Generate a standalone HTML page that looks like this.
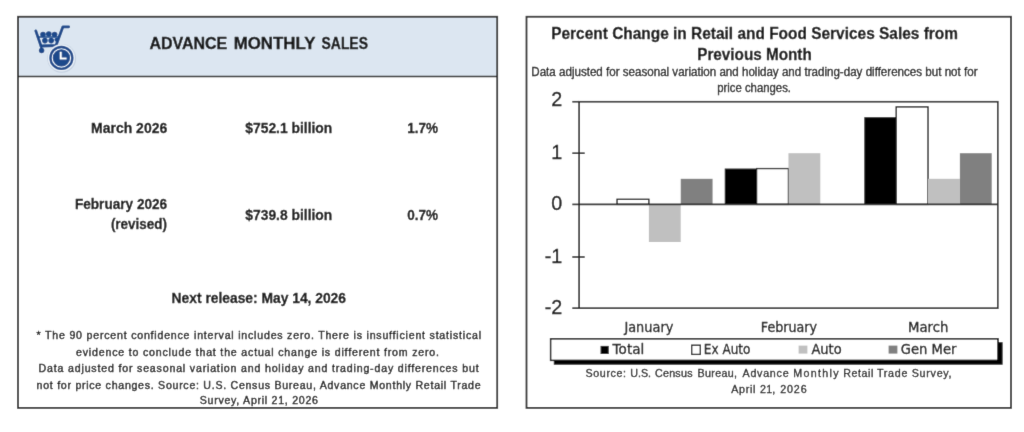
<!DOCTYPE html>
<html lang="en">
<head>
<meta charset="utf-8">
<title>Advance Monthly Sales for Retail and Food Services</title>
<style>
html,body{margin:0;padding:0;background:#fff;}
body{width:1024px;height:432px;overflow:hidden;position:relative;font-family:'Liberation Sans', Arial, sans-serif;color:#1c1c1c;}
main{position:absolute;left:0;top:0;width:1024px;height:432px;}
section{position:absolute;top:0;width:512px;height:432px;margin:0;padding:0;overflow:hidden;}
#sales-summary{left:0;}
#sales-chart{left:512px;}
svg{display:block;position:absolute;left:0;top:0;}
text{white-space:pre;}
</style>
</head>
<body>
<main>
<section id="sales-summary">
<svg width="512" height="432" viewBox="0 0 512 432" role="img" aria-label="Advance Monthly Sales summary table">
<defs><filter id="softL" x="0" y="0" width="512" height="432" filterUnits="userSpaceOnUse"><feConvolveMatrix order="3" kernelMatrix="0.0081 0.0738 0.0081 0.0738 0.6724 0.0738 0.0081 0.0738 0.0081" divisor="1" bias="0" edgeMode="duplicate" preserveAlpha="true"/></filter></defs>
<g filter="url(#softL)">
<rect x="0" y="0" width="512" height="432" fill="#fff"/>
<rect x="18.0" y="16.75" width="479.2" height="391.15" fill="#fff"/>
<rect x="18.0" y="16.75" width="479.2" height="59.75" fill="#dce6f1"/>
<line x1="18.0" y1="76.5" x2="497.2" y2="76.5" stroke="#2b2b2b" stroke-width="1.3"/>
<rect x="18.0" y="16.75" width="479.2" height="391.15" fill="none" stroke="#2b2b2b" stroke-width="1.8"/>

<g id="icon" fill="none" stroke="#1b4a8b" stroke-linecap="round" stroke-linejoin="round">
  <path d="M35.8 30.9 L41.0 46.0 L56.0 45.5 L62.9 26.8 L68.7 26.8" stroke-width="2.8"/>
  <path d="M41.0 46.0 L41.6 50.4" stroke-width="2.4"/>
  <path d="M37.6 37.1 L58.8 37.1" stroke-width="1.5"/>
  <g fill="#1b4a8b" stroke="none">
    <circle cx="43.0" cy="34.5" r="2.8"/><circle cx="48.8" cy="34.0" r="2.8"/><circle cx="54.6" cy="34.5" r="2.8"/>
    <circle cx="44.9" cy="40.6" r="2.8"/><circle cx="51.2" cy="40.6" r="2.8"/><circle cx="56.4" cy="39.8" r="2.0"/>
    <circle cx="41.6" cy="50.5" r="2.7"/>
  </g>
  <circle cx="61.7" cy="58.4" r="14.4" fill="#aebdd2" stroke="none" opacity="0.5"/>
  <circle cx="61.4" cy="57.9" r="13.6" fill="#e9eff7" stroke="none"/>
  <circle cx="61.4" cy="57.9" r="12.1" fill="#1b4a8b" stroke="none"/>
  <circle cx="61.4" cy="57.9" r="9.2" fill="none" stroke="#eef3fa" stroke-width="1.15"/>
  <path d="M60.7 51.8 L60.7 58.6 L66.6 58.6" stroke="#fff" stroke-width="2.0" stroke-linecap="butt" stroke-linejoin="miter"/>
</g>

<text x="149.40" y="48.60" font-family="'Liberation Sans', Arial, sans-serif" font-size="16" font-weight="bold" fill="#151515" textLength="77.90" lengthAdjust="spacingAndGlyphs"  stroke="#151515" stroke-width="0.35" stroke-linejoin="round">ADVANCE</text>
<text x="233.70" y="48.60" font-family="'Liberation Sans', Arial, sans-serif" font-size="16" font-weight="bold" fill="#151515" textLength="81.70" lengthAdjust="spacingAndGlyphs"  stroke="#151515" stroke-width="0.35" stroke-linejoin="round">MONTHLY</text>
<text x="321.60" y="48.60" font-family="'Liberation Sans', Arial, sans-serif" font-size="16" font-weight="bold" fill="#151515" textLength="46.30" lengthAdjust="spacingAndGlyphs"  stroke="#151515" stroke-width="0.35" stroke-linejoin="round">SALES</text>
<text x="91.10" y="132.70" font-family="'Liberation Sans', Arial, sans-serif" font-size="14.6" font-weight="bold" fill="#151515" textLength="76.10" lengthAdjust="spacingAndGlyphs"  stroke="#151515" stroke-width="0.3" stroke-linejoin="round">March 2026</text>
<text x="245.30" y="132.70" font-family="'Liberation Sans', Arial, sans-serif" font-size="14.6" font-weight="bold" fill="#151515" textLength="87.00" lengthAdjust="spacingAndGlyphs"  stroke="#151515" stroke-width="0.3" stroke-linejoin="round">$752.1 billion</text>
<text x="407.20" y="132.70" font-family="'Liberation Sans', Arial, sans-serif" font-size="14.6" font-weight="bold" fill="#151515" textLength="30.80" lengthAdjust="spacingAndGlyphs"  stroke="#151515" stroke-width="0.3" stroke-linejoin="round">1.7%</text>
<text x="74.90" y="209.30" font-family="'Liberation Sans', Arial, sans-serif" font-size="14.6" font-weight="bold" fill="#151515" textLength="92.30" lengthAdjust="spacingAndGlyphs"  stroke="#151515" stroke-width="0.3" stroke-linejoin="round">February 2026</text>
<text x="110.90" y="229.10" font-family="'Liberation Sans', Arial, sans-serif" font-size="14.6" font-weight="bold" fill="#151515" textLength="56.10" lengthAdjust="spacingAndGlyphs"  stroke="#151515" stroke-width="0.3" stroke-linejoin="round">(revised)</text>
<text x="245.30" y="219.90" font-family="'Liberation Sans', Arial, sans-serif" font-size="14.6" font-weight="bold" fill="#151515" textLength="87.00" lengthAdjust="spacingAndGlyphs"  stroke="#151515" stroke-width="0.3" stroke-linejoin="round">$739.8 billion</text>
<text x="407.20" y="219.90" font-family="'Liberation Sans', Arial, sans-serif" font-size="14.6" font-weight="bold" fill="#151515" textLength="30.80" lengthAdjust="spacingAndGlyphs"  stroke="#151515" stroke-width="0.3" stroke-linejoin="round">0.7%</text>
<text x="171.60" y="302.90" font-family="'Liberation Sans', Arial, sans-serif" font-size="14.6" font-weight="bold" fill="#151515" textLength="174.40" lengthAdjust="spacingAndGlyphs"  stroke="#151515" stroke-width="0.3" stroke-linejoin="round">Next release: May 14, 2026</text>
<text x="36.60" y="339.40" font-family="'Liberation Sans', Arial, sans-serif" font-size="10.6" font-weight="normal" fill="#151515" textLength="444.40" lengthAdjust="spacing"  stroke="#151515" stroke-width="0.4" stroke-linejoin="round">* The 90 percent confidence interval includes zero. There is insufficient statistical</text>
<text x="76.00" y="356.30" font-family="'Liberation Sans', Arial, sans-serif" font-size="10.6" font-weight="normal" fill="#151515" textLength="363.00" lengthAdjust="spacing"  stroke="#151515" stroke-width="0.4" stroke-linejoin="round">evidence to conclude that the actual change is different from zero.</text>
<text x="38.60" y="372.00" font-family="'Liberation Sans', Arial, sans-serif" font-size="10.6" font-weight="normal" fill="#151515" textLength="440.00" lengthAdjust="spacing"  stroke="#151515" stroke-width="0.4" stroke-linejoin="round">Data adjusted for seasonal variation and holiday and trading-day differences but</text>
<text x="36.60" y="388.80" font-family="'Liberation Sans', Arial, sans-serif" font-size="10.6" font-weight="normal" fill="#151515" textLength="444.00" lengthAdjust="spacing"  stroke="#151515" stroke-width="0.4" stroke-linejoin="round">not for price changes. Source: U.S. Census Bureau, Advance Monthly Retail Trade</text>
<text x="199.80" y="404.40" font-family="'Liberation Sans', Arial, sans-serif" font-size="10.6" font-weight="normal" fill="#151515" textLength="118.20" lengthAdjust="spacing"  stroke="#151515" stroke-width="0.4" stroke-linejoin="round">Survey, April 21, 2026</text>
</g>
</svg>
</section>
<section id="sales-chart">
<svg width="512" height="432" viewBox="512 0 512 432" role="img" aria-label="Bar chart: Percent Change in Retail and Food Services Sales from Previous Month">
<defs><filter id="softR" x="512" y="0" width="512" height="432" filterUnits="userSpaceOnUse"><feConvolveMatrix order="3" kernelMatrix="0.0081 0.0738 0.0081 0.0738 0.6724 0.0738 0.0081 0.0738 0.0081" divisor="1" bias="0" edgeMode="duplicate" preserveAlpha="true"/></filter></defs>
<g filter="url(#softR)">
<rect x="512" y="0" width="512" height="432" fill="#fff"/>
<rect x="526.5" y="16.75" width="484.5" height="391.15" fill="#fff" stroke="#2b2b2b" stroke-width="1.8"/>
<text x="551.20" y="39.30" font-family="'Liberation Sans', Arial, sans-serif" font-size="16.6" font-weight="bold" fill="#151515" textLength="406.80" lengthAdjust="spacingAndGlyphs"  stroke="#151515" stroke-width="0.3" stroke-linejoin="round">Percent Change in Retail and Food Services Sales from</text>
<text x="697.20" y="60.30" font-family="'Liberation Sans', Arial, sans-serif" font-size="16.6" font-weight="bold" fill="#151515" textLength="114.60" lengthAdjust="spacingAndGlyphs"  stroke="#151515" stroke-width="0.3" stroke-linejoin="round">Previous Month</text>
<text x="531.30" y="76.20" font-family="'Liberation Sans', Arial, sans-serif" font-size="13.4" font-weight="normal" fill="#151515" textLength="446.20" lengthAdjust="spacingAndGlyphs"  stroke="#151515" stroke-width="0.35" stroke-linejoin="round">Data adjusted for seasonal variation and holiday and trading-day differences but not for</text>
<text x="717.20" y="92.30" font-family="'Liberation Sans', Arial, sans-serif" font-size="13.4" font-weight="normal" fill="#151515" textLength="73.80" lengthAdjust="spacingAndGlyphs"  stroke="#151515" stroke-width="0.35" stroke-linejoin="round">price changes.</text>
<rect x="617.03" y="199.28" width="31.85" height="5.12" fill="#fff" stroke="#111" stroke-width="1.3"/>
<rect x="648.88" y="204.40" width="31.85" height="37.61" fill="#c0c0c0"/>
<rect x="680.73" y="178.80" width="31.85" height="25.60" fill="#808080"/>
<rect x="724.75" y="168.56" width="31.85" height="35.84" fill="#000"/>
<rect x="756.60" y="168.56" width="31.85" height="35.84" fill="#fff" stroke="#111" stroke-width="1.3"/>
<rect x="788.45" y="153.20" width="31.85" height="51.20" fill="#c0c0c0"/>
<rect x="864.32" y="117.19" width="31.85" height="87.22" fill="#000"/>
<rect x="896.17" y="106.90" width="31.85" height="97.50" fill="#fff" stroke="#111" stroke-width="1.3"/>
<rect x="928.02" y="178.80" width="31.85" height="25.60" fill="#c0c0c0"/>
<rect x="959.87" y="153.20" width="31.85" height="51.20" fill="#808080"/>
<rect x="579.1" y="101.75" width="418.69999999999993" height="206.39999999999998" fill="none" stroke="#2a2a2a" stroke-width="1.65"/>
<line x1="579.1" y1="204.40" x2="997.8" y2="204.40" stroke="#2a2a2a" stroke-width="1.65"/>
<line x1="572.3000000000001" y1="101.75" x2="579.1" y2="101.75" stroke="#2a2a2a" stroke-width="1.65"/>
<line x1="572.3000000000001" y1="153.20" x2="584.7" y2="153.20" stroke="#2a2a2a" stroke-width="1.65"/>
<line x1="572.3000000000001" y1="204.40" x2="579.1" y2="204.40" stroke="#2a2a2a" stroke-width="1.65"/>
<line x1="572.3000000000001" y1="257.00" x2="584.7" y2="257.00" stroke="#2a2a2a" stroke-width="1.65"/>
<line x1="572.3000000000001" y1="308.15" x2="579.1" y2="308.15" stroke="#2a2a2a" stroke-width="1.65"/>
<text transform="translate(562.2,106.20) scale(1.0,1)" x="0" y="0" text-anchor="end" font-family="'Liberation Sans', Arial, sans-serif" font-size="19.7" fill="#151515" stroke="#151515" stroke-width="0.35">2</text>
<text transform="translate(562.2,158.60) scale(1.0,1)" x="0" y="0" text-anchor="end" font-family="'Liberation Sans', Arial, sans-serif" font-size="19.7" fill="#151515" stroke="#151515" stroke-width="0.35">1</text>
<text transform="translate(562.2,210.00) scale(1.0,1)" x="0" y="0" text-anchor="end" font-family="'Liberation Sans', Arial, sans-serif" font-size="19.7" fill="#151515" stroke="#151515" stroke-width="0.35">0</text>
<text transform="translate(562.2,262.60) scale(1.0,1)" x="0" y="0" text-anchor="end" font-family="'Liberation Sans', Arial, sans-serif" font-size="19.7" fill="#151515" stroke="#151515" stroke-width="0.35">-1</text>
<text transform="translate(562.2,313.90) scale(1.0,1)" x="0" y="0" text-anchor="end" font-family="'Liberation Sans', Arial, sans-serif" font-size="19.7" fill="#151515" stroke="#151515" stroke-width="0.35">-2</text>
<text x="624.40" y="332.30" font-family="'DejaVu Sans', 'Liberation Sans', sans-serif" font-size="13.4" font-weight="normal" fill="#151515" textLength="49.00" lengthAdjust="spacingAndGlyphs"  stroke="#151515" stroke-width="0.32" stroke-linejoin="round">January</text>
<text x="760.80" y="332.30" font-family="'DejaVu Sans', 'Liberation Sans', sans-serif" font-size="13.4" font-weight="normal" fill="#151515" textLength="56.20" lengthAdjust="spacingAndGlyphs"  stroke="#151515" stroke-width="0.32" stroke-linejoin="round">February</text>
<text x="908.00" y="332.30" font-family="'DejaVu Sans', 'Liberation Sans', sans-serif" font-size="13.4" font-weight="normal" fill="#151515" textLength="40.40" lengthAdjust="spacingAndGlyphs"  stroke="#151515" stroke-width="0.32" stroke-linejoin="round">March</text>
<rect x="553.8000000000001" y="342.2" width="448.79999999999995" height="22.499999999999964" fill="#000"/>
<rect x="550.6" y="338.8" width="447.4" height="21.599999999999966" fill="#fff" stroke="#000" stroke-width="1.45"/>
<rect x="600.6" y="345.9" width="8.1" height="8.1" fill="#000"/>
<text x="612.60" y="353.90" font-family="'DejaVu Sans', 'Liberation Sans', sans-serif" font-size="13.4" font-weight="normal" fill="#151515" textLength="31.70" lengthAdjust="spacingAndGlyphs"  stroke="#151515" stroke-width="0.32" stroke-linejoin="round">Total</text>
<rect x="691.7" y="345.2" width="8.6" height="9.2" fill="#fff" stroke="#111" stroke-width="1.3"/>
<text x="703.80" y="353.90" font-family="'DejaVu Sans', 'Liberation Sans', sans-serif" font-size="13.4" font-weight="normal" fill="#151515" textLength="46.60" lengthAdjust="spacingAndGlyphs"  stroke="#151515" stroke-width="0.32" stroke-linejoin="round">Ex Auto</text>
<rect x="798.6" y="345.6" width="8.8" height="8.0" fill="#c0c0c0"/>
<text x="811.40" y="353.90" font-family="'DejaVu Sans', 'Liberation Sans', sans-serif" font-size="13.4" font-weight="normal" fill="#151515" textLength="30.30" lengthAdjust="spacingAndGlyphs"  stroke="#151515" stroke-width="0.32" stroke-linejoin="round">Auto</text>
<rect x="888.6" y="345.6" width="8.8" height="8.0" fill="#808080"/>
<text x="900.80" y="353.90" font-family="'DejaVu Sans', 'Liberation Sans', sans-serif" font-size="13.4" font-weight="normal" fill="#151515" textLength="55.60" lengthAdjust="spacingAndGlyphs"  stroke="#151515" stroke-width="0.32" stroke-linejoin="round">Gen Mer</text>
<g>
<text x="585.50" y="377.40" font-family="'Liberation Sans', Arial, sans-serif" font-size="10.7" font-weight="normal" fill="#151515" textLength="40.60" lengthAdjust="spacing"  stroke="#151515" stroke-width="0.3" stroke-linejoin="round">Source:</text>
<text x="630.30" y="377.40" font-family="'Liberation Sans', Arial, sans-serif" font-size="10.7" font-weight="normal" fill="#151515" textLength="20.80" lengthAdjust="spacingAndGlyphs"  stroke="#151515" stroke-width="0.3" stroke-linejoin="round">U.S.</text>
<text x="655.00" y="377.40" font-family="'Liberation Sans', Arial, sans-serif" font-size="10.7" font-weight="normal" fill="#151515" textLength="37.50" lengthAdjust="spacing"  stroke="#151515" stroke-width="0.3" stroke-linejoin="round">Census</text>
<text x="697.50" y="377.40" font-family="'Liberation Sans', Arial, sans-serif" font-size="10.7" font-weight="normal" fill="#151515" textLength="39.50" lengthAdjust="spacing"  stroke="#151515" stroke-width="0.3" stroke-linejoin="round">Bureau,</text>
<text x="742.50" y="377.40" font-family="'Liberation Sans', Arial, sans-serif" font-size="10.7" font-weight="normal" fill="#151515" textLength="46.10" lengthAdjust="spacing"  stroke="#151515" stroke-width="0.3" stroke-linejoin="round">Advance</text>
<text x="793.30" y="377.40" font-family="'Liberation Sans', Arial, sans-serif" font-size="10.7" font-weight="normal" fill="#151515" textLength="45.30" lengthAdjust="spacing"  stroke="#151515" stroke-width="0.3" stroke-linejoin="round">Monthly</text>
<text x="843.30" y="377.40" font-family="'Liberation Sans', Arial, sans-serif" font-size="10.7" font-weight="normal" fill="#151515" textLength="30.10" lengthAdjust="spacing"  stroke="#151515" stroke-width="0.3" stroke-linejoin="round">Retail</text>
<text x="876.90" y="377.40" font-family="'Liberation Sans', Arial, sans-serif" font-size="10.7" font-weight="normal" fill="#151515" textLength="30.60" lengthAdjust="spacing"  stroke="#151515" stroke-width="0.3" stroke-linejoin="round">Trade</text>
<text x="911.70" y="377.40" font-family="'Liberation Sans', Arial, sans-serif" font-size="10.7" font-weight="normal" fill="#151515" textLength="39.90" lengthAdjust="spacing"  stroke="#151515" stroke-width="0.3" stroke-linejoin="round">Survey,</text>
</g>
<g>
<text x="731.30" y="392.60" font-family="'Liberation Sans', Arial, sans-serif" font-size="10.7" font-weight="normal" fill="#151515" textLength="24.00" lengthAdjust="spacing"  stroke="#151515" stroke-width="0.3" stroke-linejoin="round">April</text>
<text x="760.00" y="392.60" font-family="'Liberation Sans', Arial, sans-serif" font-size="10.7" font-weight="normal" fill="#151515" textLength="15.30" lengthAdjust="spacing"  stroke="#151515" stroke-width="0.3" stroke-linejoin="round">21,</text>
<text x="780.30" y="392.60" font-family="'Liberation Sans', Arial, sans-serif" font-size="10.7" font-weight="normal" fill="#151515" textLength="26.30" lengthAdjust="spacing"  stroke="#151515" stroke-width="0.3" stroke-linejoin="round">2026</text>
</g>
</g>
</svg>
</section>
</main>
</body>
</html>
